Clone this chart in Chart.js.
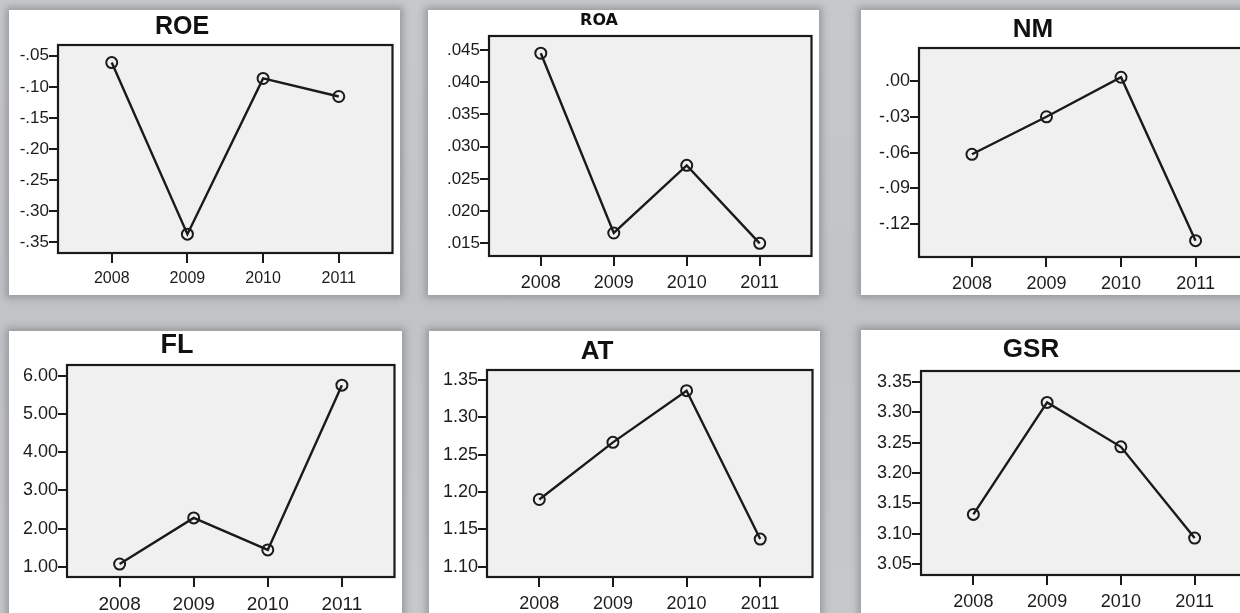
<!DOCTYPE html>
<html>
<head>
<meta charset="utf-8">
<script src="https://cdn.jsdelivr.net/npm/chart.js@4.4.1/dist/chart.umd.min.js"></script>
<style>
  body { margin: 0; width: 1240px; height: 613px; overflow: hidden; position: relative;
         background: linear-gradient(180deg, #c6c8ca 0%, #c1c3c6 50%, #c6c8ca 100%); }
  .card { position: absolute; background: #fff; box-shadow: 0 0 7px 3px rgba(95, 98, 102, 0.45); }
  .card canvas { position: absolute; left: 0; top: 0; }
</style>
</head>
<body>
<script>
// years on the x axis
const years = [2008, 2009, 2010, 2011];

// values
const roeValues = [-0.061, -0.337, -0.0865, -0.1155];
const roaValues = [0.0445, 0.0166, 0.0271, 0.0150];
const nmValues = [-0.0614, -0.030, 0.0031, -0.1337];
const flValues = [1.07, 2.28, 1.44, 5.76];
const atValues = [1.190, 1.2665, 1.3357, 1.137];
const gsrValues = [3.132, 3.316, 3.243, 3.093];

// y tick values + labels (SPSS style, no leading zero)
const roeTicks = [-0.05, -0.10, -0.15, -0.20, -0.25, -0.30, -0.35];
const roeTickLabels = ['-.05', '-.10', '-.15', '-.20', '-.25', '-.30', '-.35'];
const roaTicks = [0.045, 0.040, 0.035, 0.030, 0.025, 0.020, 0.015];
const roaTickLabels = ['.045', '.040', '.035', '.030', '.025', '.020', '.015'];
const nmTicks = [0.00, -0.03, -0.06, -0.09, -0.12];
const nmTickLabels = ['.00', '-.03', '-.06', '-.09', '-.12'];
const flTicks = [6, 5, 4, 3, 2, 1];
const flTickLabels = ['6.00', '5.00', '4.00', '3.00', '2.00', '1.00'];
const atTicks = [1.35, 1.30, 1.25, 1.20, 1.15, 1.10];
const atTickLabels = ['1.35', '1.30', '1.25', '1.20', '1.15', '1.10'];
const gsrTicks = [3.35, 3.30, 3.25, 3.20, 3.15, 3.10, 3.05];
const gsrTickLabels = ['3.35', '3.30', '3.25', '3.20', '3.15', '3.10', '3.05'];

// layout of each panel in page pixels: card box, plot box, title spot
const panels = [
  { title: 'ROE', values: roeValues, ticks: roeTicks, labels: roeTickLabels,
    card: [9, 10, 391, 285], plot: [58, 45, 397, 253], yMin: -0.3673, yMax: -0.0327,
    titleAt: [182, 27], titleFont: 'bold 25px "Liberation Sans", Arial', yFont: 17, xFont: 16 },
  { title: 'ROA', values: roaValues, ticks: roaTicks, labels: roaTickLabels,
    card: [428, 10, 391, 285], plot: [489, 36, 818, 256], yMin: 0.01303, yMax: 0.04717,
    titleAt: [599, 21], titleFont: 'bold 16px "DejaVu Sans", Verdana', yFont: 17, xFont: 18 },
  { title: 'NM', values: nmValues, ticks: nmTicks, labels: nmTickLabels,
    card: [861, 10, 395, 285], plot: [919, 48, 1249, 257], yMin: -0.1474, yMax: 0.0276,
    titleAt: [1033, 30], titleFont: 'bold 26px "Liberation Sans", Arial', yFont: 18, xFont: 18 },
  { title: 'FL', values: flValues, ticks: flTicks, labels: flTickLabels,
    card: [9, 331, 393, 290], plot: [67, 365, 398, 577], yMin: 0.73, yMax: 6.288,
    titleAt: [177, 346], titleFont: 'bold 27px "Liberation Sans", Arial', yFont: 18, xFont: 19 },
  { title: 'AT', values: atValues, ticks: atTicks, labels: atTickLabels,
    card: [429, 331, 391, 290], plot: [487, 370, 817, 577], yMin: 1.0862, yMax: 1.3634,
    titleAt: [597, 352], titleFont: 'bold 26px "Liberation Sans", Arial', yFont: 18, xFont: 18 },
  { title: 'GSR', values: gsrValues, ticks: gsrTicks, labels: gsrTickLabels,
    card: [861, 330, 395, 290], plot: [921, 371, 1247, 575], yMin: 3.0324, yMax: 3.3676,
    titleAt: [1031, 350], titleFont: 'bold 26px "Liberation Sans", Arial', yFont: 18, xFont: 18 }
];

const xPad = 0.71;
const ink = '#1a1a1a';

// grey plot box with a dark frame
const plotFrame = {
  id: 'plotFrame',
  beforeDraw(chart) {
    const a = chart.chartArea, ctx = chart.ctx;
    ctx.save();
    ctx.fillStyle = '#f0f0f0';
    ctx.fillRect(a.left, a.top, a.right - a.left, a.bottom - a.top);
    ctx.restore();
  },
  afterDraw(chart) {
    const a = chart.chartArea, ctx = chart.ctx;
    ctx.save();
    ctx.strokeStyle = ink;
    ctx.lineWidth = 2.2;
    ctx.strokeRect(a.left, a.top, a.right - a.left, a.bottom - a.top);
    ctx.restore();
  }
};

// panel title drawn where SPSS put it
const panelTitle = {
  id: 'panelTitle',
  afterDraw(chart, args, opts) {
    const ctx = chart.ctx;
    ctx.save();
    ctx.font = opts.font;
    ctx.fillStyle = '#111';
    ctx.textAlign = 'center';
    ctx.textBaseline = 'middle';
    ctx.fillText(opts.text, opts.x, opts.y);
    ctx.restore();
  }
};

panels.forEach(function (p) {
  const [cx, cy, cw, ch] = p.card;
  const [pl, pt, pr, pb] = p.plot;

  const card = document.createElement('div');
  card.className = 'card';
  card.style.left = cx + 'px';
  card.style.top = cy + 'px';
  card.style.width = cw + 'px';
  card.style.height = ch + 'px';
  const canvas = document.createElement('canvas');
  canvas.width = cw;
  canvas.height = ch;
  card.appendChild(canvas);
  document.body.appendChild(card);

  const yAxisW = pl - cx;
  const xAxisH = cy + ch - pb;

  new Chart(canvas, {
    type: 'line',
    data: {
      datasets: [{
        data: years.map(function (yr, i) { return { x: yr, y: p.values[i] }; }),
        borderColor: ink,
        borderWidth: 2.4,
        pointRadius: 5.5,
        pointBorderWidth: 2,
        pointBorderColor: ink,
        pointBackgroundColor: 'rgba(0,0,0,0)',
        tension: 0
      }]
    },
    options: {
      responsive: false,
      animation: false,
      devicePixelRatio: 1,
      layout: { padding: { left: 0, top: pt - cy, right: cx + cw - pr, bottom: 0 } },
      plugins: {
        legend: { display: false },
        tooltip: { enabled: false },
        panelTitle: { text: p.title, x: p.titleAt[0] - cx, y: p.titleAt[1] - cy, font: p.titleFont }
      },
      scales: {
        x: {
          type: 'linear',
          min: years[0] - xPad,
          max: years[years.length - 1] + xPad,
          afterBuildTicks: function (scale) {
            scale.ticks = years.map(function (yr) { return { value: yr }; });
          },
          afterFit: function (scale) { scale.height = xAxisH; },
          border: { display: false },
          grid: { drawOnChartArea: false, drawTicks: true, tickLength: 10, tickColor: ink, lineWidth: 2 },
          ticks: {
            autoSkip: false, maxRotation: 0, padding: 6, color: '#1c1c1c',
            font: { family: '"Liberation Sans", Arial', size: p.xFont },
            callback: function (v) { return String(v); }
          }
        },
        y: {
          min: p.yMin,
          max: p.yMax,
          afterBuildTicks: function (scale) {
            scale.ticks = p.ticks.map(function (v) { return { value: v }; });
          },
          afterFit: function (scale) { scale.width = yAxisW; },
          border: { display: false },
          grid: { drawOnChartArea: false, drawTicks: true, tickLength: 9, tickColor: ink, lineWidth: 2 },
          ticks: {
            autoSkip: false, padding: 0, color: '#1c1c1c',
            font: { family: '"Liberation Sans", Arial', size: p.yFont },
            callback: function (v, i) { return p.labels[i]; }
          }
        }
      }
    },
    plugins: [plotFrame, panelTitle]
  });
});
</script>
</body>
</html>
